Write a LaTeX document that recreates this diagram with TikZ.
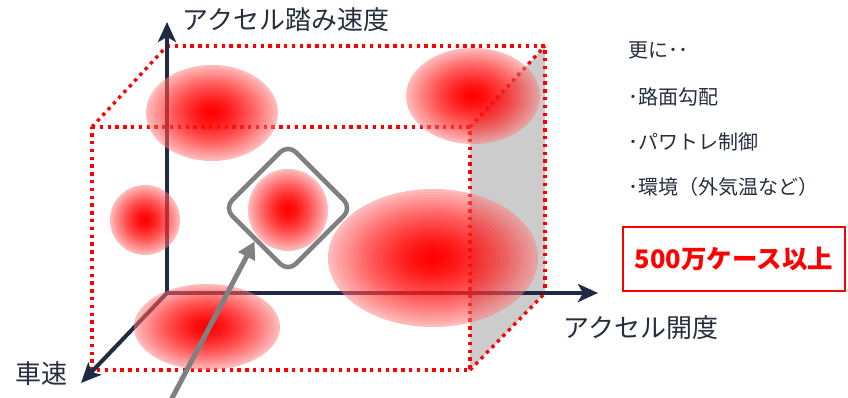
\documentclass[tikz,border=0pt]{standalone}
\usepackage{fontspec}
\setmainfont{Noto Sans CJK JP}
\usetikzlibrary{arrows.meta}
\definecolor{navy}{HTML}{1F2A44}
\definecolor{txt}{HTML}{262E3E}
\definecolor{facegray}{HTML}{CCCCCC}
\definecolor{framegray}{HTML}{808080}
\newcommand{\redblob}[4]{%
  \fill[red!52, fill opacity=0.52] (#1,#2) ellipse [x radius=#3, y radius=#4];
  \foreach \k in {1,...,24}{%
    \pgfmathsetmacro\blobf{1-\k/25}%
    \pgfmathsetmacro\bloba{1-((25-\k)/(26-\k))^1.4}%
    \fill[red, fill opacity=\bloba] (#1,#2) ellipse [x radius=\blobf*#3, y radius=\blobf*#4];
  }%
}
\tikzset{
  dotline/.style={red, line width=3.4pt, dash pattern=on 3.4pt off 4.4pt},
  axisline/.style={navy, line width=4pt, -{Stealth[length=20pt,width=18pt,inset=5pt]}},
  lab/.style={text=txt, inner sep=0pt, font=\fontsize{26pt}{30pt}\selectfont},
  listtxt/.style={text=txt, inner sep=0pt, anchor=west, font=\fontsize{20pt}{24pt}\selectfont},
}
\begin{document}
\begin{tikzpicture}[x=1pt,y=-1pt]
\useasboundingbox (0,0) rectangle (848,398);
% box corners
\coordinate (O) at (167,293);
\coordinate (bt) at (167,46);
\coordinate (btr) at (545,46);
\coordinate (bbr) at (545,293);
\coordinate (ftl) at (92,127);
\coordinate (ftr) at (470,127);
\coordinate (fbr) at (470,370);
\coordinate (fbl) at (92,370);
% grey side face
\fill[facegray] (ftr) -- (btr) -- (bbr) -- (fbr) -- cycle;
% dotted box edges
\draw[dotline] (ftl) -- (ftr) -- (fbr) -- (fbl) -- cycle;
\draw[dotline] (bt) -- (btr) -- (bbr);
\draw[dotline] (ftl) -- (bt);
\draw[dotline] (ftr) -- (btr);
\draw[dotline] (fbr) -- (bbr);
% axes
\coordinate (ytip) at (167,22);
\coordinate (xtip) at (598,293);
\coordinate (ztip) at (81,383);
\draw[axisline] (O) -- (ytip);
\draw[axisline] (O) -- (xtip);
\draw[axisline] (O) -- (ztip);
% blobs
\redblob{212}{113}{66}{48}
\redblob{473}{96}{67}{48}
\redblob{145}{220}{35}{35}
\redblob{288}{210}{40}{41}
\redblob{433}{258}{105}{69}
\redblob{207}{327}{73}{43}
% highlight frame and pointer
\node[draw=framegray, line width=4.5pt, rounded corners=11pt, minimum size=90pt, inner sep=0pt, rotate=45] (dia) at (288,208) {};
\coordinate (gstart) at (170,402);
\draw[framegray, line width=5pt, -{Triangle[length=17pt,width=18pt]}] (gstart) -- (dia.west);
% labels
\node[lab] (ylab) at (286,20) {アクセル踏み速度};
\node[lab] (xlab) at (641,328) {アクセル開度};
\node[lab] (zlab) at (41,374) {車速};
\node[listtxt] (l0) at (628,50) {更に･･};
\node[listtxt] (l1) at (628,97) {･路面勾配};
\node[listtxt] (l2) at (628,142) {･パワトレ制御};
\node[listtxt] (l3) at (628,187) {･環境（外気温など）};
\node[draw=red, line width=2pt, minimum width=222pt, minimum height=64pt, inner sep=0pt, text=red, font=\fontsize{25.5pt}{30pt}\selectfont\bfseries] (cases) at (734,259) {500万ケース以上};
\end{tikzpicture}
\end{document}
